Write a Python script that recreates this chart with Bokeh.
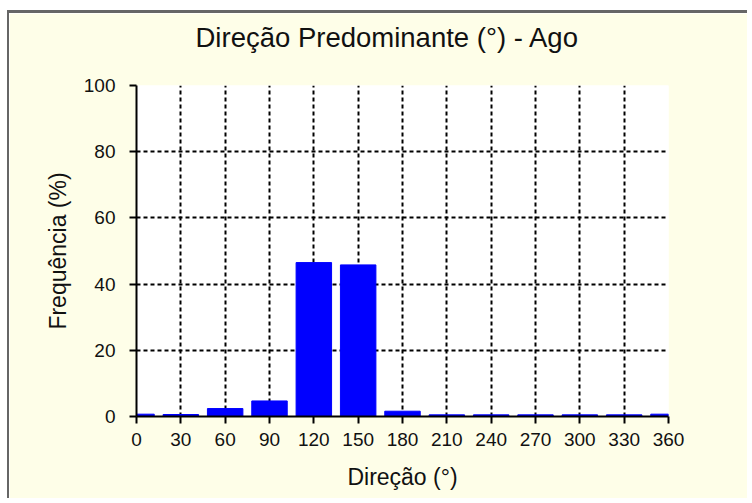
from bokeh.plotting import figure
from bokeh.models import Range1d, FixedTicker, LinearAxis
from bokeh.embed import file_html
from bokeh.resources import INLINE

# Data
directions = [0, 30, 60, 90, 120, 150, 180, 210, 240, 270, 300, 330, 360]
frequency = [0.7, 0.6, 2.4, 4.7, 46.5, 45.8, 1.6, 0.5, 0.5, 0.5, 0.5, 0.5, 0.7]
x_ticks = [0, 30, 60, 90, 120, 150, 180, 210, 240, 270, 300, 330, 360]
y_ticks = [0, 20, 40, 60, 80, 100]
title_text = "Direção Predominante (°) - Ago"

FONT = "'Liberation Sans', Arial, sans-serif"
BG = "#FEFEE8"

p = figure(width=740, height=488, output_backend="svg", toolbar_location=None,
           x_range=Range1d(0, 360), y_range=Range1d(0, 100),
           title=title_text,
           min_border_left=127, min_border_right=81, min_border_top=72, min_border_bottom=85)

p.vbar(x=directions, top=frequency, width=24, bottom=0, fill_color="#0000FF", line_color="#0000FF")

p.background_fill_color = "white"
p.border_fill_color = BG
p.outline_line_color = None

xax = p.below[0]
yax = p.left[0]
xgrid = p.xgrid[0]
ygrid = p.ygrid[0]

# invisible spacer between the title and the plot frame (blank axis label only)
spacer = LinearAxis(ticker=FixedTicker(ticks=x_ticks), axis_line_color=None,
                    major_tick_line_color=None, minor_tick_line_color=None,
                    major_tick_out=0, major_tick_in=0, minor_tick_out=0, minor_tick_in=0,
                    major_label_standoff=0, major_label_text_font_size="0px",
                    major_label_text_alpha=0,
                    axis_label=" ", axis_label_text_font_size="10px",
                    axis_label_standoff=19)
p.add_layout(spacer, "above")

p.title.align = "left"
p.title.offset = 59
p.title.standoff = 0
p.title.text_font = FONT
p.title.text_font_size = "27.5px"
p.title.text_font_style = "normal"
p.title.text_color = "#111111"

for ax in (xax, yax):
    ax.axis_line_color = "black"
    ax.axis_line_width = 2
    ax.major_tick_line_color = "black"
    ax.major_tick_line_width = 2
    ax.major_tick_out = 7
    ax.major_tick_in = 0
    ax.minor_tick_line_color = None
    ax.major_label_text_font = FONT
    ax.major_label_text_font_size = "19px"
    ax.major_label_text_color = "#111111"
    ax.axis_label_text_font = FONT
    ax.axis_label_text_font_size = "23px"
    ax.axis_label_text_font_style = "normal"
    ax.axis_label_text_color = "#111111"

xax.ticker = FixedTicker(ticks=x_ticks)
yax.ticker = FixedTicker(ticks=y_ticks)
xax.axis_label = "Direção (°)"
yax.axis_label = "Frequência (%)"
xax.major_label_standoff = 9
yax.major_label_standoff = 14
xax.axis_label_standoff = 15
yax.axis_label_standoff = 10

xgrid.ticker = FixedTicker(ticks=x_ticks)
ygrid.ticker = FixedTicker(ticks=y_ticks)
for g in (xgrid, ygrid):
    g.grid_line_color = "black"
    g.grid_line_width = 2
    g.grid_line_dash = "4 3"
    g.grid_line_alpha = 1.0

p.styles = {"margin-top": "10px", "margin-left": "7px",
            "border-top": "3px solid #666666", "border-left": "2px solid #666666"}

open("out.html", "w").write(file_html(p, INLINE))
